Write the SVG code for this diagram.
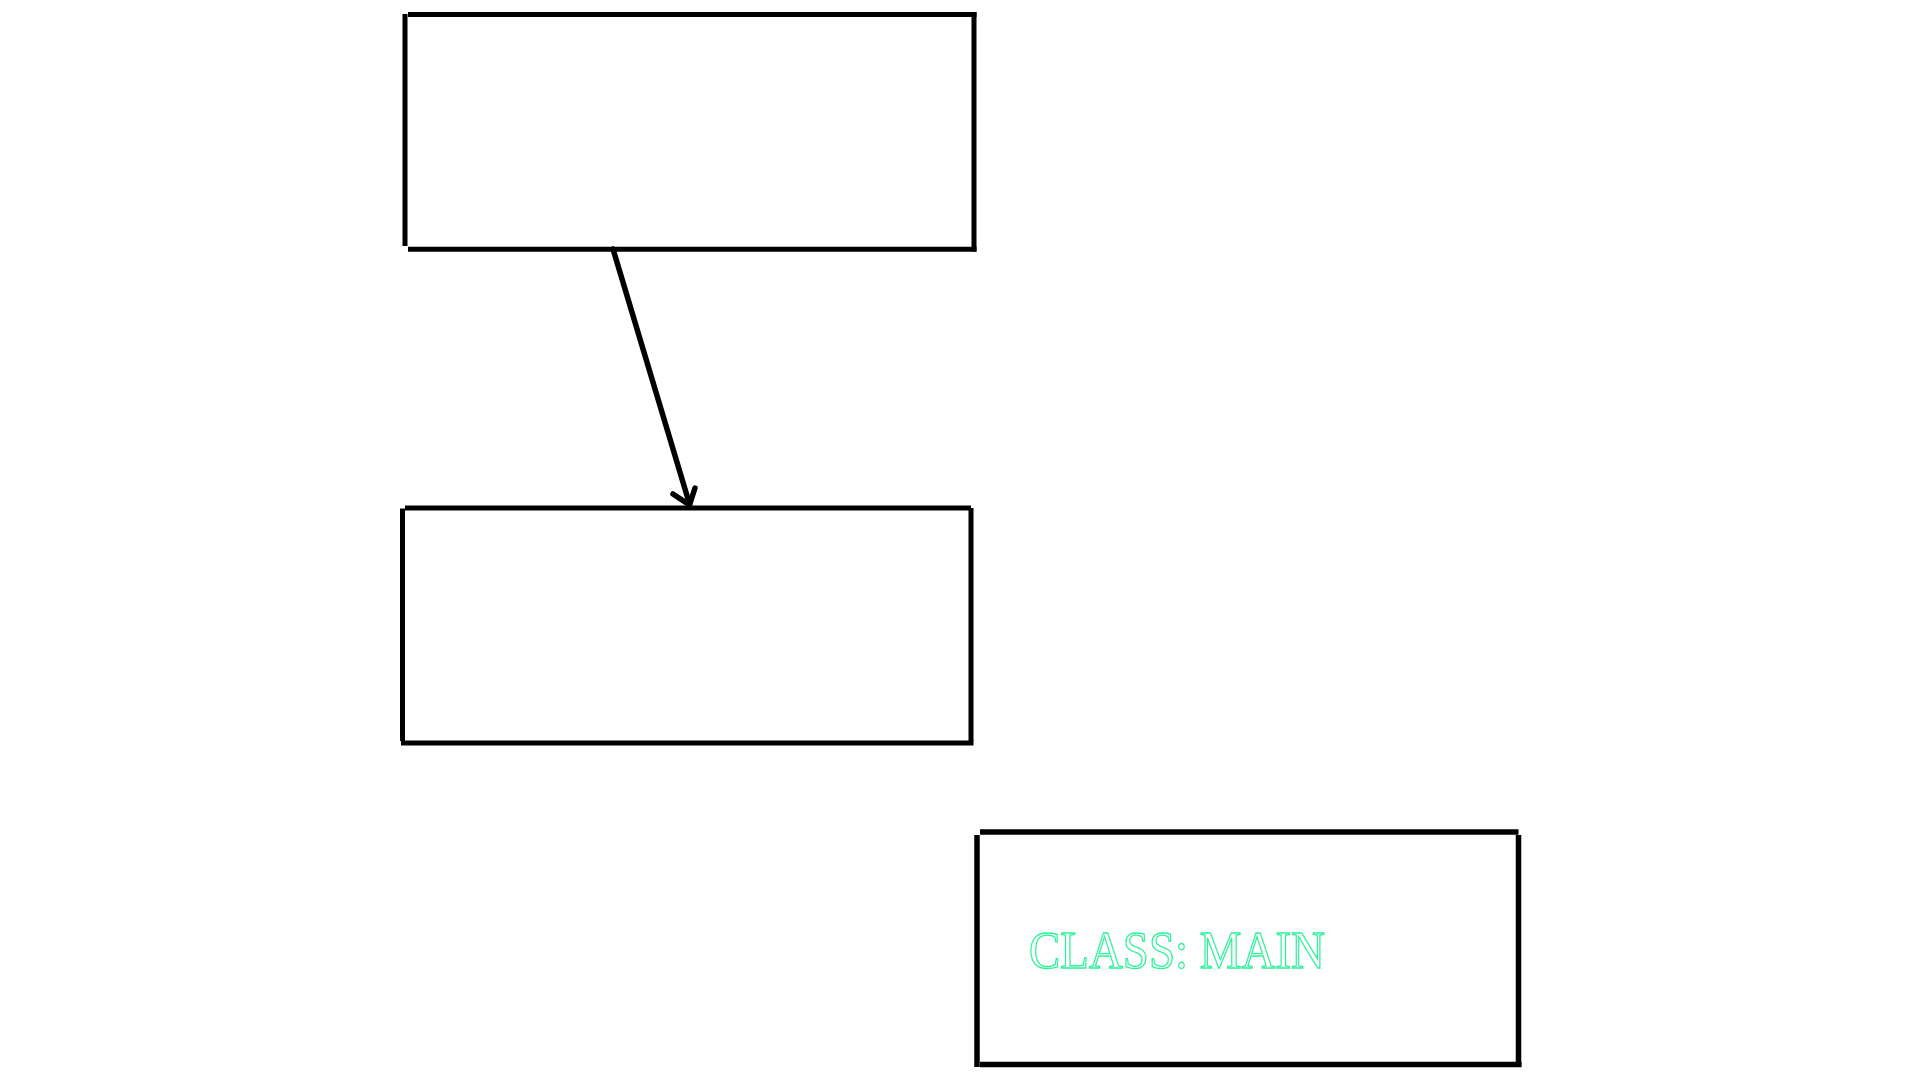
<svg xmlns="http://www.w3.org/2000/svg" width="1920" height="1080" viewBox="0 0 1920 1080">
<style>
.edge{stroke:#000;stroke-width:5;fill:none}
.edge3{stroke:#000;stroke-width:5.5;fill:none}
.conn{stroke:#000;stroke-width:5.5;fill:none;stroke-linecap:round;stroke-linejoin:round}
.lbl{font-family:"Liberation Serif",serif;font-size:52px;fill:none;stroke:#2ef29a;stroke-width:1.3}
</style>
<rect width="1920" height="1080" fill="#fff"/>
<g id="node1">
<line class="edge" x1="408" y1="14.5" x2="976.5" y2="14.5"/>
<line class="edge" x1="405" y1="14" x2="405" y2="246"/>
<line class="edge" x1="408" y1="249.2" x2="976.5" y2="249.2"/>
<line class="edge" x1="974" y1="12" x2="974" y2="251.5"/>
</g>
<g id="node2">
<line class="edge" x1="405" y1="508" x2="971" y2="508"/>
<line class="edge" x1="402.5" y1="508.5" x2="402.5" y2="741"/>
<line class="edge" x1="401" y1="743" x2="973.5" y2="743"/>
<line class="edge" x1="971" y1="508" x2="971" y2="741"/>
</g>
<g id="node3">
<line class="edge3" x1="980" y1="832" x2="1518.5" y2="832"/>
<line class="edge3" x1="977" y1="835" x2="977" y2="1067"/>
<line class="edge3" x1="980" y1="1064.5" x2="1521.5" y2="1064.5"/>
<line class="edge3" x1="1518.5" y1="835" x2="1518.5" y2="1067"/>
<text class="lbl" x="1029" y="968" textLength="296" lengthAdjust="spacingAndGlyphs">CLASS: MAIN</text>
</g>
<g id="connectors">
<line class="conn" x1="613" y1="249" x2="689.5" y2="504"/>
<polyline class="conn" points="673,494 689.5,505 695,488"/>
</g>
</svg>
